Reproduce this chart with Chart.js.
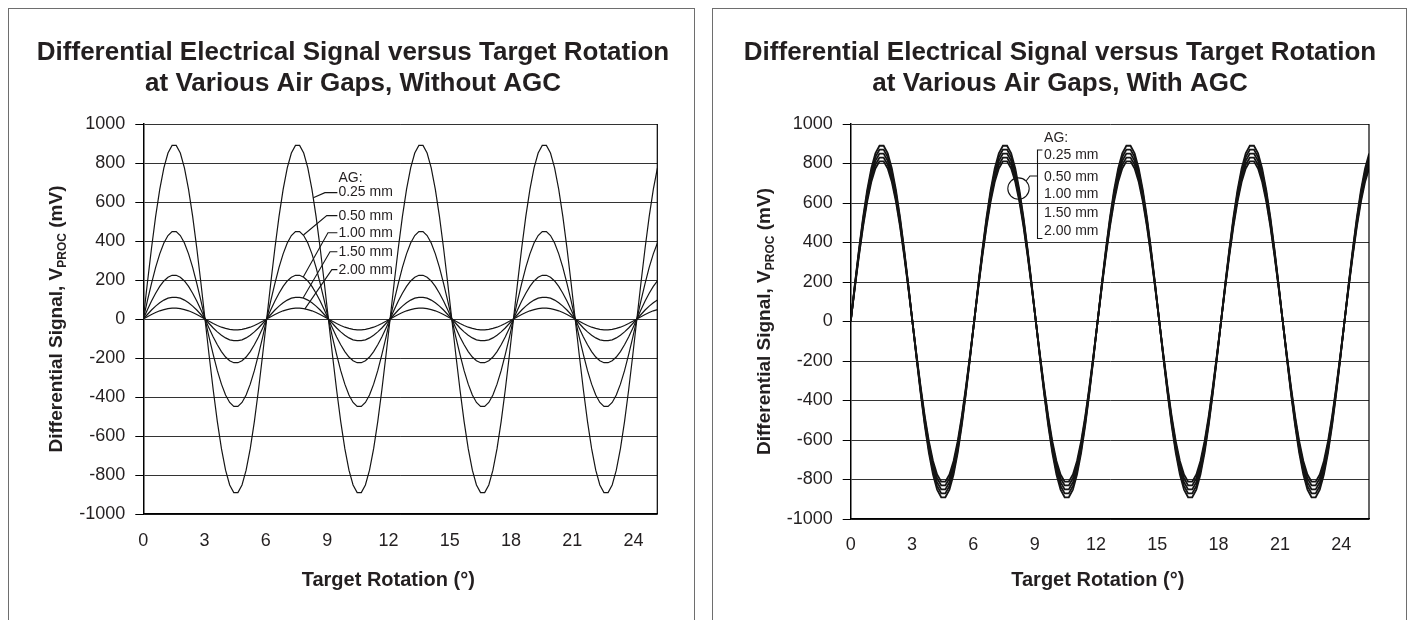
<!DOCTYPE html>
<html><head><meta charset="utf-8">
<script src="https://cdn.jsdelivr.net/npm/chart.js@4.4.1/dist/chart.umd.min.js"></script>
<style>
html,body{margin:0;padding:0;background:#fff;overflow:hidden;width:1410px;height:620px;}
.panel{position:absolute;border:1px solid #6e6e6e;box-sizing:border-box;}
#pl{left:8px;top:8px;width:687px;height:700px;}
#pr{left:712px;top:8px;width:695px;height:700px;}
canvas{position:absolute;top:0;}
#cl{left:0;} #cr{left:705px;}
</style></head>
<body>
<div class="panel" id="pl"></div>
<div class="panel" id="pr"></div>
<canvas id="cl" width="705" height="620"></canvas>
<canvas id="cr" width="705" height="620"></canvas>
<script>
// ---------- data ----------
const rotationDeg = [
0,0.201,0.403,0.604,0.805,1.007,1.208,1.409,1.611,1.812,2.013,2.215,2.416,2.617,2.819,3.02,3.221,3.423,3.624,3.825,4.027,4.228,4.429,4.631,4.832,5.033,5.235,5.436,5.637,5.839,
6.04,6.241,6.443,6.644,6.845,7.047,7.248,7.449,7.651,7.852,8.053,8.255,8.456,8.657,8.859,9.06,9.261,9.463,9.664,9.865,10.067,10.268,10.469,10.671,10.872,11.073,11.275,11.476,11.677,11.879,
12.08,12.281,12.483,12.684,12.885,13.087,13.288,13.489,13.691,13.892,14.093,14.295,14.496,14.697,14.899,15.1,15.301,15.503,15.704,15.905,16.107,16.308,16.509,16.711,16.912,17.113,17.315,17.516,17.717,17.919,
18.12,18.321,18.523,18.724,18.925,19.127,19.328,19.529,19.731,19.932,20.133,20.335,20.536,20.737,20.939,21.14,21.341,21.543,21.744,21.945,22.147,22.348,22.549,22.751,22.952,23.153,23.355,23.556,23.757,23.959,
24.16,24.361,24.563,24.764,24.965,25.167,25.368];

const gapLabels = ['0.25 mm','0.50 mm','1.00 mm','1.50 mm','2.00 mm'];
const xTickValues = [0,3,6,9,12,15,18,21,24];
const yTickValues = [-1000,-800,-600,-400,-200,0,200,400,600,800,1000];

// Without AGC (mV)
const noAgc025 = [
0,186,364,526,665,775,851,890,890,851,775,665,526,364,186,0,-186,-364,-526,-665,-775,-851,-890,-890,-851,-775,-665,-526,-364,-186,
0,186,364,526,665,775,851,890,890,851,775,665,526,364,186,0,-186,-364,-526,-665,-775,-851,-890,-890,-851,-775,-665,-526,-364,-186,
0,186,364,526,665,775,851,890,890,851,775,665,526,364,186,0,-186,-364,-526,-665,-775,-851,-890,-890,-851,-775,-665,-526,-364,-186,
0,186,364,526,665,775,851,890,890,851,775,665,526,364,186,0,-186,-364,-526,-665,-775,-851,-890,-890,-851,-775,-665,-526,-364,-186,
0,186,364,526,665,775,851];
const noAgc050 = [
0,94,183,265,334,390,428,448,448,428,390,334,265,183,94,0,-94,-183,-265,-334,-390,-428,-448,-448,-428,-390,-334,-265,-183,-94,
0,94,183,265,334,390,428,448,448,428,390,334,265,183,94,0,-94,-183,-265,-334,-390,-428,-448,-448,-428,-390,-334,-265,-183,-94,
0,94,183,265,334,390,428,448,448,428,390,334,265,183,94,0,-94,-183,-265,-334,-390,-428,-448,-448,-428,-390,-334,-265,-183,-94,
0,94,183,265,334,390,428,448,448,428,390,334,265,183,94,0,-94,-183,-265,-334,-390,-428,-448,-448,-428,-390,-334,-265,-183,-94,
0,94,183,265,334,390,428];
const noAgc100 = [
0,47,92,132,167,195,214,224,224,214,195,167,132,92,47,0,-47,-92,-132,-167,-195,-214,-224,-224,-214,-195,-167,-132,-92,-47,
0,47,92,132,167,195,214,224,224,214,195,167,132,92,47,0,-47,-92,-132,-167,-195,-214,-224,-224,-214,-195,-167,-132,-92,-47,
0,47,92,132,167,195,214,224,224,214,195,167,132,92,47,0,-47,-92,-132,-167,-195,-214,-224,-224,-214,-195,-167,-132,-92,-47,
0,47,92,132,167,195,214,224,224,214,195,167,132,92,47,0,-47,-92,-132,-167,-195,-214,-224,-224,-214,-195,-167,-132,-92,-47,
0,47,92,132,167,195,214];
const noAgc150 = [
0,23,46,66,83,97,107,111,111,107,97,83,66,46,23,0,-23,-46,-66,-83,-97,-107,-111,-111,-107,-97,-83,-66,-46,-23,
0,23,46,66,83,97,107,111,111,107,97,83,66,46,23,0,-23,-46,-66,-83,-97,-107,-111,-111,-107,-97,-83,-66,-46,-23,
0,23,46,66,83,97,107,111,111,107,97,83,66,46,23,0,-23,-46,-66,-83,-97,-107,-111,-111,-107,-97,-83,-66,-46,-23,
0,23,46,66,83,97,107,111,111,107,97,83,66,46,23,0,-23,-46,-66,-83,-97,-107,-111,-111,-107,-97,-83,-66,-46,-23,
0,23,46,66,83,97,107];
const noAgc200 = [
0,12,23,33,42,48,53,56,56,53,48,42,33,23,12,0,-12,-23,-33,-42,-48,-53,-56,-56,-53,-48,-42,-33,-23,-12,
0,12,23,33,42,48,53,56,56,53,48,42,33,23,12,0,-12,-23,-33,-42,-48,-53,-56,-56,-53,-48,-42,-33,-23,-12,
0,12,23,33,42,48,53,56,56,53,48,42,33,23,12,0,-12,-23,-33,-42,-48,-53,-56,-56,-53,-48,-42,-33,-23,-12,
0,12,23,33,42,48,53,56,56,53,48,42,33,23,12,0,-12,-23,-33,-42,-48,-53,-56,-56,-53,-48,-42,-33,-23,-12,
0,12,23,33,42,48,53];

// With AGC (mV)
const agc025 = [
0,186,364,526,665,775,851,890,890,851,775,665,526,364,186,0,-186,-364,-526,-665,-775,-851,-890,-890,-851,-775,-665,-526,-364,-186,
0,186,364,526,665,775,851,890,890,851,775,665,526,364,186,0,-186,-364,-526,-665,-775,-851,-890,-890,-851,-775,-665,-526,-364,-186,
0,186,364,526,665,775,851,890,890,851,775,665,526,364,186,0,-186,-364,-526,-665,-775,-851,-890,-890,-851,-775,-665,-526,-364,-186,
0,186,364,526,665,775,851,890,890,851,775,665,526,364,186,0,-186,-364,-526,-665,-775,-851,-890,-890,-851,-775,-665,-526,-364,-186,
0,186,364,526,665,775,851];
const agc050 = [
0,182,356,514,650,758,832,870,870,832,758,650,514,356,182,0,-182,-356,-514,-650,-758,-832,-870,-870,-832,-758,-650,-514,-356,-182,
0,182,356,514,650,758,832,870,870,832,758,650,514,356,182,0,-182,-356,-514,-650,-758,-832,-870,-870,-832,-758,-650,-514,-356,-182,
0,182,356,514,650,758,832,870,870,832,758,650,514,356,182,0,-182,-356,-514,-650,-758,-832,-870,-870,-832,-758,-650,-514,-356,-182,
0,182,356,514,650,758,832,870,870,832,758,650,514,356,182,0,-182,-356,-514,-650,-758,-832,-870,-870,-832,-758,-650,-514,-356,-182,
0,182,356,514,650,758,832];
const agc100 = [
0,178,348,503,635,740,813,850,850,813,740,635,503,348,178,0,-178,-348,-503,-635,-740,-813,-850,-850,-813,-740,-635,-503,-348,-178,
0,178,348,503,635,740,813,850,850,813,740,635,503,348,178,0,-178,-348,-503,-635,-740,-813,-850,-850,-813,-740,-635,-503,-348,-178,
0,178,348,503,635,740,813,850,850,813,740,635,503,348,178,0,-178,-348,-503,-635,-740,-813,-850,-850,-813,-740,-635,-503,-348,-178,
0,178,348,503,635,740,813,850,850,813,740,635,503,348,178,0,-178,-348,-503,-635,-740,-813,-850,-850,-813,-740,-635,-503,-348,-178,
0,178,348,503,635,740,813];
const agc150 = [
0,174,340,491,620,723,794,830,830,794,723,620,491,340,174,0,-174,-340,-491,-620,-723,-794,-830,-830,-794,-723,-620,-491,-340,-174,
0,174,340,491,620,723,794,830,830,794,723,620,491,340,174,0,-174,-340,-491,-620,-723,-794,-830,-830,-794,-723,-620,-491,-340,-174,
0,174,340,491,620,723,794,830,830,794,723,620,491,340,174,0,-174,-340,-491,-620,-723,-794,-830,-830,-794,-723,-620,-491,-340,-174,
0,174,340,491,620,723,794,830,830,794,723,620,491,340,174,0,-174,-340,-491,-620,-723,-794,-830,-830,-794,-723,-620,-491,-340,-174,
0,174,340,491,620,723,794];
const agc200 = [
0,169,331,479,606,706,775,811,811,775,706,606,479,331,169,0,-169,-331,-479,-606,-706,-775,-811,-811,-775,-706,-606,-479,-331,-169,
0,169,331,479,606,706,775,811,811,775,706,606,479,331,169,0,-169,-331,-479,-606,-706,-775,-811,-811,-775,-706,-606,-479,-331,-169,
0,169,331,479,606,706,775,811,811,775,706,606,479,331,169,0,-169,-331,-479,-606,-706,-775,-811,-811,-775,-706,-606,-479,-331,-169,
0,169,331,479,606,706,775,811,811,775,706,606,479,331,169,0,-169,-331,-479,-606,-706,-775,-811,-811,-775,-706,-606,-479,-331,-169,
0,169,331,479,606,706,775];

const titleLine1 = 'Differential Electrical Signal versus Target Rotation';
const titleNoAgc = 'at Various Air Gaps, Without AGC';
const titleAgc = 'at Various Air Gaps, With AGC';
const xAxisTitle = 'Target Rotation (\u00B0)';
const yAxisTitle = ['Differential Signal, V', 'PROC', ' (mV)'];

// ---------- rendering ----------
const FONT = '"Liberation Sans", Arial, Helvetica, sans-serif';
const INK = '#231f20';

function toPoints(vals){ return rotationDeg.map((x,i)=>({x:x, y:vals[i]})); }

function makeDatasets(list, width){
  return list.map((vals,i)=>({
    label: gapLabels[i], data: toPoints(vals),
    borderColor:'#151515', borderWidth: width, pointRadius:0, tension:0, fill:false
  }));
}

function decorPlugin(opt){
  return {
    id:'decor',
    afterDraw(chart){
      const ctx = chart.ctx, a = chart.chartArea, xs = chart.scales.x, ys = chart.scales.y;
      ctx.save();
      // plot-area right border
      ctx.strokeStyle = '#000'; ctx.lineWidth = 1.2;
      ctx.beginPath(); ctx.moveTo(a.right, a.top); ctx.lineTo(a.right, a.bottom); ctx.stroke();
      // chart title
      ctx.fillStyle = INK;
      ctx.font = 'bold 26px ' + FONT;
      ctx.textAlign = 'center'; ctx.textBaseline = 'alphabetic';
      ctx.fillText(titleLine1, opt.titleX, 59.5);
      ctx.fillText(opt.title2, opt.titleX, 90.8);
      // x axis title
      ctx.font = 'bold 20px ' + FONT;
      ctx.fillText(xAxisTitle, (a.left + a.right)/2 - 12, 586);
      // y axis title
      ctx.save();
      ctx.translate(a.left - 88, (a.top + a.bottom)/2);
      ctx.rotate(-Math.PI/2);
      const f1 = 'bold 19px ' + FONT, f2 = 'bold 12px ' + FONT;
      ctx.font = f1; const w1 = ctx.measureText(yAxisTitle[0]).width, w3 = ctx.measureText(yAxisTitle[2]).width;
      ctx.font = f2; const w2 = ctx.measureText(yAxisTitle[1]).width;
      let sx = -(w1 + w2 + w3)/2;
      ctx.textAlign = 'left';
      ctx.font = f1; ctx.fillText(yAxisTitle[0], sx, 7); sx += w1;
      ctx.font = f2; ctx.fillText(yAxisTitle[1], sx, 11); sx += w2;
      ctx.font = f1; ctx.fillText(yAxisTitle[2], sx, 7);
      ctx.restore();
      // annotation
      opt.notes(ctx, v => xs.getPixelForValue(v), v => ys.getPixelForValue(v));
      ctx.restore();
    }
  };
}

function leftNotes(ctx, px, py){
  ctx.font = '14px ' + FONT; ctx.fillStyle = INK;
  ctx.textAlign = 'left'; ctx.textBaseline = 'middle';
  const rows = [721, 648, 530, 442, 345, 253];
  const tx = px(9.55);
  ['AG:'].concat(gapLabels).forEach((t,i)=>ctx.fillText(t, tx, py(rows[i])));
  const knees = [8.89, 8.98, 9.04, 9.14, 9.23];
  const ends = [[8.32,622],[7.84,431],[7.83,215],[7.82,108],[7.91,52]];
  ctx.strokeStyle = '#151515'; ctx.lineWidth = 1.1;
  for (let i = 0; i < 5; i++){
    const yy = py(rows[i+1]);
    ctx.beginPath();
    ctx.moveTo(px(9.5), yy); ctx.lineTo(px(knees[i]), yy);
    ctx.lineTo(px(ends[i][0]), py(ends[i][1]));
    ctx.stroke();
  }
}

function rightNotes(ctx, px, py){
  ctx.font = '14px ' + FONT; ctx.fillStyle = INK;
  ctx.textAlign = 'left'; ctx.textBaseline = 'middle';
  const rows = [926, 841, 732, 645, 550, 455];
  const tx = px(9.46);
  ['AG:'].concat(gapLabels).forEach((t,i)=>ctx.fillText(t, tx, py(rows[i])));
  ctx.strokeStyle = '#151515'; ctx.lineWidth = 1.1;
  // bracket
  const bx = px(9.14), bs = px(9.38), bt = py(868), bb = py(420);
  ctx.beginPath();
  ctx.moveTo(bs, bt); ctx.lineTo(bx, bt); ctx.lineTo(bx, bb); ctx.lineTo(bs, bb);
  ctx.stroke();
  // circle and leader
  const cx = px(8.21), cy = py(673), r = 10.7;
  ctx.beginPath(); ctx.arc(cx, cy, r, 0, Math.PI*2); ctx.stroke();
  const ang = -Math.PI/4;
  ctx.beginPath();
  ctx.moveTo(cx + r*Math.cos(ang), cy + r*Math.sin(ang));
  ctx.lineTo(px(8.77), py(737)); ctx.lineTo(bx, py(737));
  ctx.stroke();
}

function makeChart(id, opt){
  return new Chart(document.getElementById(id), {
    type:'line',
    data:{ datasets: makeDatasets(opt.series, opt.lineWidth) },
    options:{
      responsive:false, animation:false, devicePixelRatio:1,
      layout:{ autoPadding:false, padding:{ left:0, right:opt.padRight, top:124, bottom:0 } },
      plugins:{ legend:{display:false}, tooltip:{enabled:false}, title:{display:false} },
      scales:{
        x:{
          type:'linear', min:0, max:opt.xMax,
          afterBuildTicks: s => { s.ticks = xTickValues.map(v=>({value:v})); },
          afterFit: s => { s.height = opt.xHeight; },
          grid:{ display:false, drawTicks:false },
          border:{ display:true, color:'#000', width:1.5 },
          ticks:{ padding:opt.xPad, color:INK, font:{family:FONT, size:18}, maxRotation:0, autoSkip:false,
                  callback: v => String(v) }
        },
        y:{
          type:'linear', min:-1000, max:1000,
          afterBuildTicks: s => { s.ticks = yTickValues.map(v=>({value:v})); },
          afterFit: s => { s.width = opt.yWidth; },
          grid:{ display:true, color:'#333', lineWidth:1, drawTicks:true, tickLength:8, tickColor:'#000' },
          border:{ display:true, color:'#000', width:1.5 },
          ticks:{ padding:10, color:INK, font:{family:FONT, size:18}, autoSkip:false,
                  callback: v => String(v) }
        }
      }
    },
    plugins:[ decorPlugin(opt) ]
  });
}

makeChart('cl', {
  series:[noAgc025, noAgc050, noAgc100, noAgc150, noAgc200], lineWidth:1.2,
  xMax:25.16, padRight:47.7, yWidth:143.3, xHeight:106, xPad:16,
  titleX:353, title2:titleNoAgc, notes:leftNotes
});
makeChart('cr', {
  series:[agc025, agc050, agc100, agc150, agc200], lineWidth:1.8,
  xMax:25.36, padRight:41, yWidth:145.7, xHeight:101, xPad:15,
  titleX:355, title2:titleAgc, notes:rightNotes
});
</script>
</body></html>
